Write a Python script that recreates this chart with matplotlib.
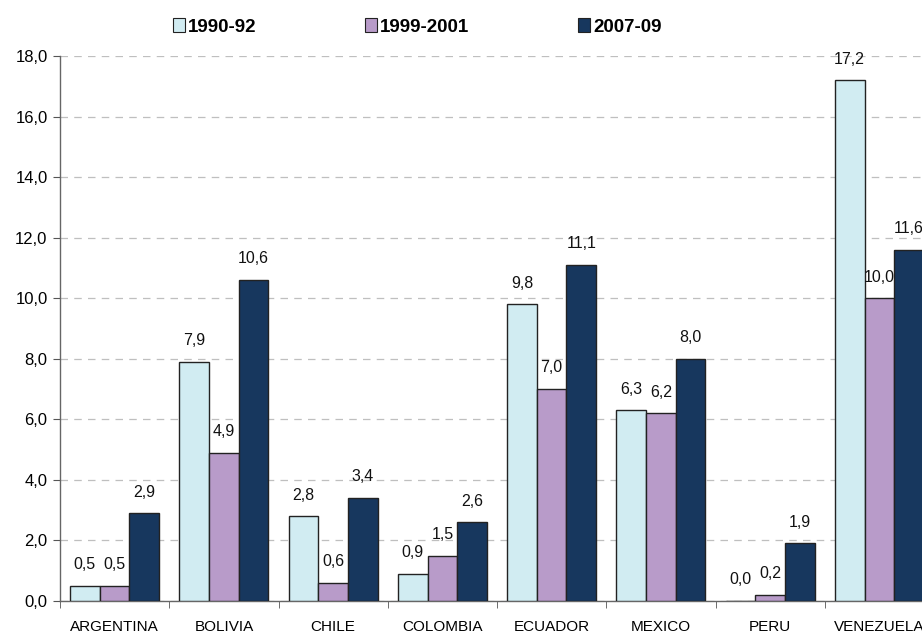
import numpy as np
import matplotlib.pyplot as plt
from matplotlib.patches import Rectangle

plt.rcParams["font.family"] = ["Liberation Sans", "DejaVu Sans"]

countries = ["ARGENTINA", "BOLIVIA", "CHILE", "COLOMBIA", "ECUADOR", "MEXICO", "PERU", "VENEZUELA"]
series_names = ["1990-92", "1999-2001", "2007-09"]
v_1990 = [0.5, 7.9, 2.8, 0.9, 9.8, 6.3, 0.0, 17.2]
v_1999 = [0.5, 4.9, 0.6, 1.5, 7.0, 6.2, 0.2, 10.0]
v_2007 = [2.9, 10.6, 3.4, 2.6, 11.1, 8.0, 1.9, 11.6]
colors = ["#D1ECF2", "#B89BC9", "#17375E"]

fig = plt.figure(figsize=(9.22, 6.35), dpi=100)
ax = fig.add_axes([60 / 922, 34 / 635, 874 / 922, 545 / 635])

x = np.arange(len(countries))
w = 0.272
for i, (vals, c) in enumerate(zip([v_1990, v_1999, v_2007], colors)):
    pos = x + (i - 1) * w
    ax.bar(pos, vals, width=w, color=c, edgecolor="#222222", linewidth=1.0, zorder=3)
    for p, v in zip(pos, vals):
        ax.text(p, v + 0.45, f"{v:.1f}".replace(".", ","), ha="center", va="bottom",
                fontsize=11.5, color="#111111", zorder=4)

ax.set_xlim(-0.5, len(countries) - 0.5)
ax.set_ylim(0, 18)
ax.set_yticks(np.arange(0, 18.1, 2))
ax.set_yticklabels([f"{t:.1f}".replace(".", ",") for t in np.arange(0, 18.1, 2)], fontsize=12)
ax.yaxis.grid(True, linestyle=(0, (6, 5)), color="#BFBFBF", linewidth=0.9, zorder=0)

ax.set_xticks(x)
ax.set_xticklabels(countries, fontsize=11)
ax.tick_params(axis="x", length=0, pad=13.5)
ax.set_xticks(np.arange(-0.5, len(countries), 1), minor=True)
ax.tick_params(axis="x", which="minor", length=5, color="#555555", direction="out")
ax.tick_params(axis="y", length=5, color="#555555", direction="out", pad=4)

for s in ["top", "right"]:
    ax.spines[s].set_visible(False)
for s in ["left", "bottom"]:
    ax.spines[s].set_color("#666666")
    ax.spines[s].set_linewidth(1.0)

handles = [Rectangle((0, 0), 1, 1, facecolor=c, edgecolor="#222222", linewidth=0.8) for c in colors]
fig.legend(handles, series_names, loc="center", bbox_to_anchor=(417 / 922, 1 - 27 / 635),
           ncol=3, frameon=False, prop={"weight": "bold", "size": 13.5},
           handlelength=0.65, handleheight=0.75, handletextpad=0.15, columnspacing=5.8)

fig.savefig("out.png", dpi=100)
